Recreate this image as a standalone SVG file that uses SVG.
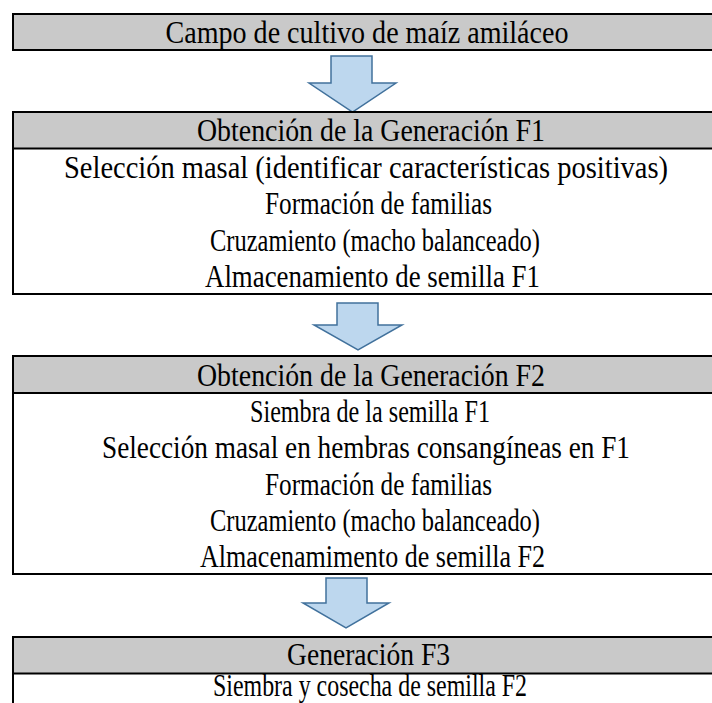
<svg xmlns="http://www.w3.org/2000/svg" width="712" height="703" viewBox="0 0 712 703">
<style>
.hdr{fill:#c9c9c9;stroke:#000;stroke-width:2}
.body{fill:#fff;stroke:#000;stroke-width:2}
.t{font-family:"Liberation Serif","Times New Roman",serif;font-size:31px;fill:#000;text-anchor:middle}
.arr{fill:#bdd7ee;stroke:#41719c;stroke-width:1.5;stroke-linejoin:miter}
</style>
<rect width="712" height="703" fill="#fff"/>
<g id="connectors">
<path class="arr" d="M331,56 H372 V83 H396 L352.5,112 L309,83 H331 Z"/>
<path class="arr" d="M337,303 H378 V325 H402 L358,350 L314,325 H337 Z"/>
<path class="arr" d="M326,578 H367 V603 H389 L346,628 L303,603 H326 Z"/>
</g>
<g id="node-campo">
<rect class="hdr" x="13" y="14" width="720" height="36"/>
<text class="t" x="367" y="43" textLength="403" lengthAdjust="spacingAndGlyphs">Campo de cultivo de maíz amiláceo</text>
</g>
<g id="node-f1">
<rect class="body" x="13" y="112" width="720" height="182"/>
<rect class="hdr" x="13" y="112" width="720" height="36.5"/>
<text class="t" x="371" y="141" textLength="348" lengthAdjust="spacingAndGlyphs">Obtención de la Generación F1</text>
<text class="t" x="366" y="177.5" textLength="604" lengthAdjust="spacingAndGlyphs">Selección masal (identificar características positivas)</text>
<text class="t" x="378.5" y="214" textLength="227" lengthAdjust="spacingAndGlyphs">Formación de familias</text>
<text class="t" x="375" y="250.5" textLength="330" lengthAdjust="spacingAndGlyphs">Cruzamiento (macho balanceado)</text>
<text class="t" x="372.5" y="287" textLength="335" lengthAdjust="spacingAndGlyphs">Almacenamiento de semilla F1</text>
</g>
<g id="node-f2">
<rect class="body" x="13" y="356" width="720" height="218"/>
<rect class="hdr" x="13" y="356" width="720" height="37"/>
<text class="t" x="371" y="385.5" textLength="348" lengthAdjust="spacingAndGlyphs">Obtención de la Generación F2</text>
<text class="t" x="370" y="422" textLength="240" lengthAdjust="spacingAndGlyphs">Siembra de la semilla F1</text>
<text class="t" x="366" y="458" textLength="528" lengthAdjust="spacingAndGlyphs">Selección masal en hembras consangíneas en F1</text>
<text class="t" x="378.5" y="495" textLength="227" lengthAdjust="spacingAndGlyphs">Formación de familias</text>
<text class="t" x="375" y="531" textLength="330" lengthAdjust="spacingAndGlyphs">Cruzamiento (macho balanceado)</text>
<text class="t" x="372.5" y="567" textLength="345" lengthAdjust="spacingAndGlyphs">Almacenamimento de semilla F2</text>
</g>
<g id="node-f3">
<rect class="body" x="13" y="637" width="720" height="80"/>
<rect class="hdr" x="13" y="637" width="720" height="36.5"/>
<text class="t" x="368.5" y="665" textLength="163" lengthAdjust="spacingAndGlyphs">Generación F3</text>
<text class="t" x="370" y="696" textLength="314" lengthAdjust="spacingAndGlyphs">Siembra y cosecha de semilla F2</text>
</g>
</svg>
